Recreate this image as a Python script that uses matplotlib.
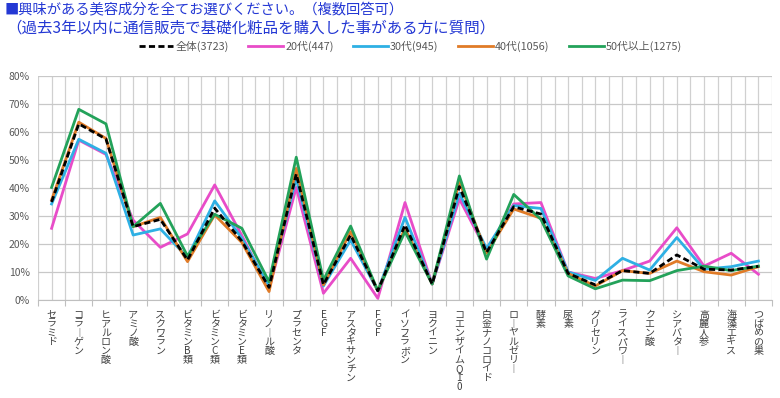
import matplotlib

matplotlib.use("Agg")
import matplotlib.pyplot as plt
import numpy as np

plt.rcParams["font.family"] = ["Noto Sans CJK JP", "DejaVu Sans"]

# categories (x axis, written vertically in the original)
labels = [
    "セラミド", "コラーゲン", "ヒアルロン酸", "アミノ酸", "スクワラン", "ビタミンB類",
    "ビタミンC類", "ビタミンE類", "リノール酸", "プラセンタ", "EGF", "アスタキサンチン",
    "FGF", "イソフラボン", "ヨクイニン", "コエンザイムQ10", "白金ナノコロイド",
    "ローヤルゼリー", "酵素", "尿素", "グリセリン", "ライスパワー", "クエン酸",
    "シアバター", "高麗人参", "海藻エキス", "つばめの巣",
]

# percentages
total = [35.0, 62.9, 57.5, 26.2, 28.8, 14.3, 32.8, 21.0, 4.5, 45.0, 5.5, 23.2, 3.3, 26.8,
         5.7, 40.5, 17.0, 33.3, 30.7, 9.5, 5.4, 10.5, 9.5, 16.1, 11.0, 10.7, 12.0]
age20 = [25.6, 57.1, 52.0, 28.5, 18.8, 23.6, 41.1, 23.0, 4.0, 40.2, 2.4, 14.9, 0.6, 34.8,
         5.7, 36.1, 17.5, 34.3, 34.8, 10.0, 7.7, 10.5, 13.9, 25.8, 12.1, 16.7, 9.2]
age30 = [34.3, 57.4, 52.4, 23.2, 25.4, 15.2, 35.4, 22.0, 5.0, 43.5, 5.0, 21.4, 3.3, 29.5,
         5.7, 38.1, 18.4, 33.7, 32.7, 10.0, 7.0, 14.9, 10.7, 22.3, 11.0, 11.9, 13.9]
age40 = [35.7, 63.5, 57.7, 26.2, 29.5, 13.7, 30.4, 20.5, 3.0, 47.0, 5.4, 24.4, 3.3, 25.6,
         5.7, 42.3, 16.7, 32.5, 29.2, 9.5, 5.0, 10.5, 9.5, 13.9, 10.1, 8.9, 11.9]
age50 = [40.2, 68.1, 62.9, 26.2, 34.5, 15.7, 30.6, 25.6, 6.5, 51.0, 7.1, 26.4, 3.3, 24.4,
         5.7, 44.3, 14.6, 37.7, 28.8, 8.6, 4.0, 7.1, 6.9, 10.5, 12.1, 10.5, 12.1]

series = [
    ("20代(447)", age20, "#e84cc8"),
    ("30代(945)", age30, "#2eb0e4"),
    ("40代(1056)", age40, "#e07b27"),
    ("50代以上(1275)", age50, "#23a25a"),
]


def vertical(s):
    # stack characters top to bottom; long vowel mark becomes a vertical bar
    return "\n".join("︱" if c == "ー" else c for c in s)


fig = plt.figure(figsize=(7.8, 3.98), dpi=100)
ax = fig.add_axes([38 / 780, 98 / 398, 734 / 780, 224 / 398])

x = np.arange(len(labels))
line_total, = ax.plot(x, total, color="black", lw=2.0, ls=(0, (2.2, 1.2)), zorder=5,
                      label="全体(3723)")
handles = [line_total]
for name, vals, color in series:
    h, = ax.plot(x, vals, color=color, lw=2.0, zorder=3, label=name)
    handles.append(h)

ax.set_xlim(-0.5, len(labels) - 0.5)
ax.set_ylim(0, 80)
ax.set_yticks(np.arange(0, 81, 10))
ax.set_yticklabels([f"{v}%" for v in range(0, 81, 10)], fontsize=7.5, color="#595959")

ax.set_xticks(np.arange(-0.5, len(labels)))
ax.set_xticklabels([])
ax.set_xticks(x, minor=True)
ax.set_xticklabels([vertical(s) for s in labels], minor=True, fontsize=7.2,
                   color="#404040", linespacing=0.88)
ax.tick_params(axis="x", which="major", length=4, color="#bfbfbf", direction="out")
ax.tick_params(axis="x", which="minor", length=0, pad=7)
ax.tick_params(axis="y", length=0, pad=6)

ax.grid(True, which="both", axis="x", color="#d0d0d0", lw=0.9)
ax.grid(True, axis="y", color="#c8c8c8", lw=0.9)
ax.set_axisbelow(True)
for side in ["top", "right", "left"]:
    ax.spines[side].set_visible(False)
ax.spines["bottom"].set_color("#bfbfbf")

fig.text(0.006, 0.995, "■興味がある美容成分を全てお選びください。（複数回答可）",
         color="#2438d4", fontsize=10.3, va="top", ha="left")
fig.text(0.008, 0.952, "（過去3年以内に通信販売で基礎化粧品を購入した事がある方に質問）",
         color="#2438d4", fontsize=11.2, va="top", ha="left")

fig.legend(handles=handles, loc="center", bbox_to_anchor=(0.526, 0.884), ncol=5,
           frameon=False, fontsize=7.8, handlelength=3.2, handletextpad=0.2,
           columnspacing=1.8, labelcolor="#595959", borderpad=0.1)

fig.savefig("out.png", dpi=100)
plt.close(fig)
